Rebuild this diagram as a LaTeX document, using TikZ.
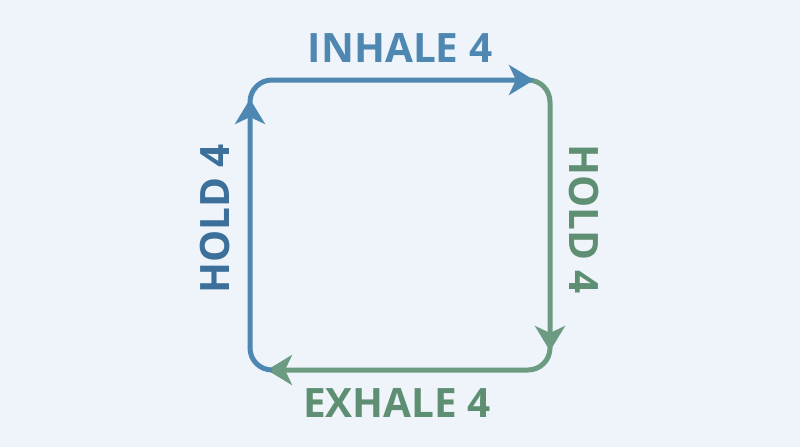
\documentclass[tikz,border=0pt]{standalone}
\usepackage{fontspec}
\setmainfont{Open Sans}
\usetikzlibrary{arrows.meta}
\definecolor{bg}{HTML}{EEF4FA}
\definecolor{blu}{HTML}{4E88B2}
\definecolor{dblu}{HTML}{3C6F99}
\definecolor{grn}{HTML}{6B9B80}
\definecolor{dgrn}{HTML}{5F8F72}
\tikzset{
  edge/.style={line width=5pt, rounded corners=22pt, -{Stealth[length=25pt,width=30pt,inset=7pt]}},
  lbl/.style={font=\fontsize{40.5}{42}\selectfont\bfseries, inner sep=0pt}
}
\begin{document}
\begin{tikzpicture}[x=1pt,y=-1pt]
\fill[bg] (0,0) rectangle (800,447);
\useasboundingbox (0,0) rectangle (800,447);
\coordinate (tl) at (250,80);
\coordinate (tr) at (550,80);
\coordinate (br) at (550,370);
\coordinate (bl) at (250,370);
\coordinate (ls) at (250,103);
\coordinate (te) at (534,80);
\coordinate (rs) at (530,80);
\coordinate (re) at (550,351);
\coordinate (bs) at (550,347);
\coordinate (be) at (267,370);
\coordinate (lbs) at (272,370);
\coordinate (le) at (250,99);
\draw[edge, grn] (rs) -- (tr) -- (re);
\draw[edge, grn] (bs) -- (br) -- (be);
\draw[edge, blu] (lbs) -- (bl) -- (le);
\draw[edge, blu] (ls) -- (tl) -- (te);
\node[lbl, blu] (inhale) at (400,48) {INHALE 4};
\node[lbl, dgrn] (exhale) at (397,403) {EXHALE 4};
\node[lbl, dblu, rotate=90] (holdl) at (215,219) {HOLD 4};
\node[lbl, dgrn, rotate=-90] (holdr) at (584,219) {HOLD 4};
\end{tikzpicture}
\end{document}
